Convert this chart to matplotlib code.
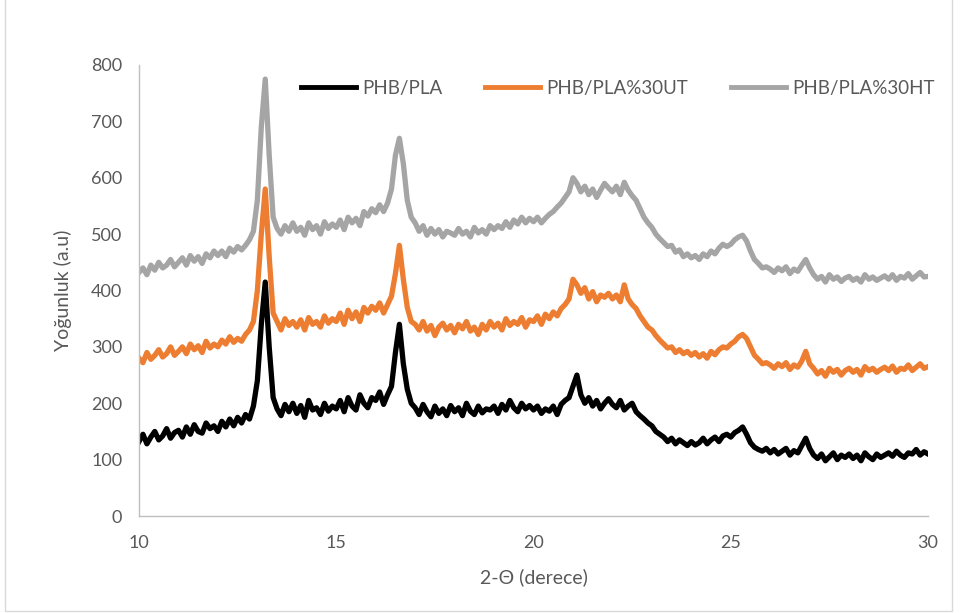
import numpy as np
import matplotlib
matplotlib.use("Agg")
import matplotlib.pyplot as plt
from matplotlib.patches import Rectangle

plt.rcParams['font.family'] = ['Lato', 'DejaVu Sans']

two_theta = np.round(np.arange(10.0, 30.0001, 0.1), 1)

phb_pla = [
    132,145,128,140,150,135,142,155,138,148,
    152,140,158,145,162,150,147,165,155,160,
    150,168,158,172,160,175,165,180,172,195,
    240,340,415,300,210,190,178,198,185,200,
    182,196,175,205,188,192,180,200,186,195,
    190,205,185,210,195,188,215,200,192,210,
    205,220,198,215,230,290,340,270,225,200,
    192,180,198,185,176,195,182,190,178,196,
    185,192,178,200,186,180,195,183,190,188,
    195,182,198,188,205,192,185,200,190,196,
    188,195,182,190,186,195,180,198,205,210,
    230,250,215,200,210,195,205,190,200,208,
    198,192,205,188,195,200,185,178,172,165,
    160,150,145,140,132,138,128,135,130,125,
    132,126,130,138,128,135,140,132,142,145,
    140,148,152,158,145,130,122,118,115,120,
    112,118,110,115,120,108,116,112,125,138,
    120,108,102,110,98,105,112,100,108,104,
    110,102,108,98,112,105,100,110,104,108,
    112,106,115,108,104,112,110,118,108,114,
    110]

phb_pla_30ut = [
    280,272,290,278,285,295,282,288,300,285,
    292,300,288,305,295,302,290,310,298,305,
    300,312,305,318,308,315,310,322,330,345,
    400,500,580,460,360,345,330,350,338,345,
    335,348,330,352,340,345,335,355,342,350,
    345,360,340,365,350,362,345,370,360,372,
    365,378,360,375,390,430,480,420,370,345,
    340,330,345,328,338,320,335,342,330,338,
    325,340,332,345,328,335,322,340,330,345,
    335,342,330,350,338,345,340,352,335,348,
    345,355,340,358,350,362,355,368,375,385,
    420,410,395,405,385,398,380,392,388,395,
    385,392,380,410,385,375,368,355,345,335,
    330,320,312,305,298,300,290,295,288,292,
    285,290,282,288,280,292,286,295,300,298,
    305,310,318,322,315,300,285,278,270,272,
    268,262,270,265,272,260,268,264,275,292,
    270,262,252,258,248,262,255,260,250,258,
    262,255,260,250,265,258,262,255,260,264,
    258,266,255,262,260,268,258,264,270,262,
    265]

phb_pla_30ht = [
    432,440,428,445,436,450,440,445,455,442,
    450,458,445,462,452,460,448,465,458,470,
    462,470,460,475,468,478,472,480,490,505,
    560,690,775,640,530,510,500,515,505,520,
    505,512,498,520,508,515,500,522,510,518,
    512,525,508,530,520,528,515,540,532,545,
    538,552,540,555,580,640,670,625,560,530,
    520,505,515,498,510,500,508,495,505,502,
    498,510,500,505,495,512,502,508,500,515,
    508,515,510,522,512,525,518,530,520,528,
    522,530,520,528,535,540,548,555,565,575,
    600,590,575,585,570,580,565,578,590,582,
    575,585,570,592,578,568,560,545,530,520,
    512,500,492,485,478,480,468,472,460,465,
    458,462,455,465,460,470,465,475,482,478,
    482,490,495,498,488,470,455,448,440,442,
    438,432,440,435,442,430,438,434,445,455,
    440,428,420,425,415,428,420,424,416,422,
    425,418,422,415,428,420,424,418,422,426,
    420,428,418,425,422,430,420,426,432,424,
    425]

series_labels = ["PHB/PLA", "PHB/PLA%30UT", "PHB/PLA%30HT"]
series_colors = ["#000000", "#ED7D31", "#A5A5A5"]
x_ticks = [10, 15, 20, 25, 30]
y_ticks = [0, 100, 200, 300, 400, 500, 600, 700, 800]

fig = plt.figure(figsize=(9.6, 6.13), dpi=100)
ax = fig.add_axes([0.1448, 0.1582, 0.8219, 0.7358])

for vals, lab, col in zip([phb_pla, phb_pla_30ut, phb_pla_30ht], series_labels, series_colors):
    ax.plot(two_theta, vals, color=col, lw=3.8, label=lab, solid_joinstyle='round')

ax.set_xlim(10, 30)
ax.set_ylim(0, 800)
ax.set_xticks(x_ticks)
ax.set_yticks(y_ticks)
ax.tick_params(length=0, labelsize=13, colors='#595959', pad=12)
ax.tick_params(axis='x', pad=14)
for s in ['top', 'right']:
    ax.spines[s].set_visible(False)
for s in ['left', 'bottom']:
    ax.spines[s].set_color('#BFBFBF')
    ax.spines[s].set_linewidth(1.0)

ax.set_xlabel("2-Θ (derece)", fontsize=14, color='#595959', labelpad=12)
ax.set_ylabel("Yoğunluk (a.u)", fontsize=14, color='#595959', labelpad=14)

leg = ax.legend(loc='upper center', bbox_to_anchor=(0.607, 1.005), ncol=3, frameon=False,
                fontsize=13.5, handlelength=2.9, columnspacing=2.3, handletextpad=0.35)
for t in leg.get_texts():
    t.set_color('#595959')
for h in leg.get_lines():
    h.set_linewidth(3.5)

fig.patches.append(Rectangle((0.005, 0.003), 0.987, 1.2, transform=fig.transFigure,
                             fill=False, edgecolor='#D9D9D9', lw=1.0))

fig.savefig("out.png", dpi=100)
